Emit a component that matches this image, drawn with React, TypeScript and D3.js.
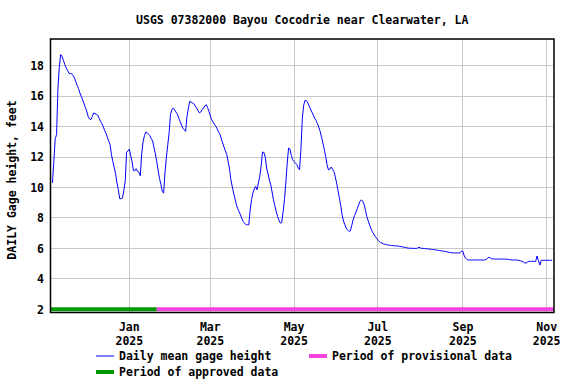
import React, { useRef, useEffect } from 'react';
import * as d3 from 'd3';

const TITLE = 'USGS 07382000 Bayou Cocodrie near Clearwater, LA';
const Y_LABEL = 'DAILY Gage height, feet';

// Daily mean gage height, feet. Each month array starts at its first day,
// except Nov 2024 which starts on the 6th.
const nov2024 = [10.3, 11.7, 13.2, 13.47, 16.5, 17.9, 18.73, 18.6, 18.35, 18.07, 17.85, 17.7, 17.5, 17.48, 17.48, 17.35, 17.2, 16.95, 16.7, 16.5, 16.2, 15.99, 15.75, 15.5, 15.25];
const dec2024 = [15.0, 14.67, 14.5, 14.45, 14.65, 14.89, 14.85, 14.8, 14.75, 14.55, 14.35, 14.2, 14.0, 13.75, 13.55, 13.3, 13.03, 12.8, 12.15, 11.7, 11.3, 10.9, 10.3, 9.85, 9.26, 9.26, 9.3, 9.8, 10.4, 12.3, 12.4];
const jan2025 = [12.52, 12.1, 11.7, 11.1, 11.1, 11.23, 11.05, 11.0, 10.77, 12.2, 13.0, 13.4, 13.64, 13.6, 13.5, 13.4, 13.2, 13.05, 12.6, 12.2, 11.7, 11.1, 10.6, 10.2, 9.75, 9.63, 11.0, 12.0, 12.8, 13.6, 14.8];
const feb2025 = [15.1, 15.22, 15.1, 14.95, 14.8, 14.55, 14.34, 14.1, 13.9, 13.8, 13.69, 14.67, 15.2, 15.66, 15.6, 15.55, 15.5, 15.35, 15.22, 15.05, 14.9, 14.95, 15.1, 15.22, 15.35, 15.44, 15.25, 15.0];
const mar2025 = [14.7, 14.45, 14.3, 14.15, 14.01, 13.85, 13.65, 13.5, 13.2, 12.92, 12.65, 12.4, 12.15, 11.7, 11.2, 10.51, 10.05, 9.63, 9.25, 8.86, 8.6, 8.4, 8.2, 7.95, 7.76, 7.65, 7.55, 7.55, 7.55, 8.5, 9.2];
const apr2025 = [9.63, 9.9, 10.07, 9.85, 10.3, 10.72, 11.38, 12.33, 12.3, 12.0, 11.28, 10.9, 10.5, 10.18, 9.7, 9.19, 8.8, 8.4, 8.1, 7.85, 7.66, 7.7, 8.4, 9.2, 10.3, 11.6, 12.59, 12.52, 12.1, 11.82];
const may2025 = [11.7, 11.6, 11.5, 11.3, 11.16, 12.5, 14.5, 15.4, 15.73, 15.7, 15.55, 15.35, 15.15, 14.95, 14.75, 14.55, 14.4, 14.2, 13.95, 13.69, 13.3, 12.92, 12.5, 12.04, 11.5, 11.16, 11.2, 11.34, 11.2, 11.05, 10.7];
const jun2025 = [10.29, 9.8, 9.3, 8.8, 8.2, 7.8, 7.55, 7.33, 7.2, 7.11, 7.15, 7.5, 7.87, 8.15, 8.35, 8.6, 8.85, 9.08, 9.19, 9.1, 8.9, 8.5, 8.09, 7.8, 7.55, 7.3, 7.1, 6.95, 6.8, 6.67];
const jul2025 = [6.55, 6.45, 6.38, 6.35, 6.3, 6.28, 6.25, 6.23, 6.22, 6.2, 6.19, 6.18, 6.17, 6.16, 6.16, 6.15, 6.13, 6.11, 6.1, 6.08, 6.06, 6.04, 6.02, 6.01, 6.01, 6.01, 6.0, 6.0, 6.0, 6.02, 6.08];
const aug2025 = [6.02, 6.01, 6.0, 5.99, 5.98, 5.97, 5.96, 5.95, 5.94, 5.93, 5.92, 5.9, 5.89, 5.87, 5.86, 5.84, 5.83, 5.82, 5.8, 5.78, 5.76, 5.74, 5.73, 5.71, 5.7, 5.7, 5.7, 5.7, 5.7, 5.72, 5.83];
const sep2025 = [5.8, 5.5, 5.35, 5.26, 5.24, 5.24, 5.24, 5.24, 5.24, 5.24, 5.24, 5.24, 5.24, 5.24, 5.24, 5.24, 5.24, 5.28, 5.36, 5.42, 5.36, 5.3, 5.32, 5.3, 5.3, 5.3, 5.3, 5.3, 5.3, 5.3];
const oct2025 = [5.3, 5.3, 5.29, 5.28, 5.26, 5.25, 5.24, 5.24, 5.24, 5.24, 5.22, 5.2, 5.18, 5.15, 5.1, 5.05, 5.03, 5.1, 5.15, 5.15, 5.15, 5.15, 5.15, 5.15, 5.5, 5.2, 4.9, 5.22, 5.22, 5.22, 5.22];
const nov2025 = [5.22, 5.22, 5.22, 5.22, 5.22];

// [year, month index, first day, values]
const monthChunks: [number, number, number, number[]][] = [
  [2024, 10, 6, nov2024], [2024, 11, 1, dec2024], [2025, 0, 1, jan2025],
  [2025, 1, 1, feb2025], [2025, 2, 1, mar2025], [2025, 3, 1, apr2025],
  [2025, 4, 1, may2025], [2025, 5, 1, jun2025], [2025, 6, 1, jul2025],
  [2025, 7, 1, aug2025], [2025, 8, 1, sep2025], [2025, 9, 1, oct2025],
  [2025, 10, 1, nov2025],
];

const yTicks = [2, 4, 6, 8, 10, 12, 14, 16, 18];
const xTickDates = ['2025-01-01', '2025-03-01', '2025-05-01', '2025-07-01', '2025-09-01', '2025-11-01'];
const xTickMonths = ['Jan', 'Mar', 'May', 'Jul', 'Sep', 'Nov'];
const xTickYears = ['2025', '2025', '2025', '2025', '2025', '2025'];

const approvedPeriod = ['2024-11-05', '2025-01-21'];
const provisionalPeriod = ['2025-01-21', '2025-11-06'];

const FONT = '"DejaVu Sans Mono", monospace';

export default function App() {
  const svgRef = useRef<SVGSVGElement>(null);

  useEffect(() => {
    if (!svgRef.current) return;
    const width = 576;
    const height = 384;
    const margin = { top: 39, right: 22, bottom: 71.5, left: 50.5 };

    const svg = d3.select(svgRef.current);
    svg.selectAll('*').remove();

    const series: { date: Date; value: number }[] = [];
    monthChunks.forEach(([yr, mo, first, vals]) => {
      vals.forEach((v, i) => series.push({ date: new Date(Date.UTC(yr, mo, first + i)), value: v }));
    });

    const x = d3.scaleUtc()
      .domain([new Date(Date.UTC(2024, 10, 4, 14)), new Date(Date.UTC(2025, 10, 6, 8))])
      .range([margin.left, width - margin.right]);
    const y = d3.scaleLinear()
      .domain([1.79, 19.75])
      .range([height - margin.bottom, margin.top]);

    svg.append('rect').attr('width', width).attr('height', height).attr('fill', '#fff');

    // Title
    svg.append('text')
      .attr('x', (margin.left + width - margin.right) / 2)
      .attr('y', 24)
      .attr('text-anchor', 'middle')
      .style('font-family', FONT)
      .style('font-weight', 'bold')
      .style('font-size', '11.5px')
      .text(TITLE);

    // Grid lines
    const grid = svg.append('g').attr('shape-rendering', 'crispEdges');
    grid.selectAll('line.h')
      .data(yTicks.slice(1))
      .join('line')
      .attr('class', 'h')
      .attr('x1', margin.left)
      .attr('x2', width - margin.right)
      .attr('y1', d => y(d))
      .attr('y2', d => y(d))
      .attr('stroke', '#c8c8c8');
    grid.selectAll('line.v')
      .data(xTickDates)
      .join('line')
      .attr('class', 'v')
      .attr('x1', d => x(new Date(d)))
      .attr('x2', d => x(new Date(d)))
      .attr('y1', margin.top)
      .attr('y2', height - margin.bottom)
      .attr('stroke', '#c8c8c8');

    // Data approval periods along the bottom
    const periods = [
      { range: approvedPeriod, color: '#009900' },
      { range: provisionalPeriod, color: '#f442dc' },
    ];
    svg.selectAll('line.period')
      .data(periods)
      .join('line')
      .attr('class', 'period')
      .attr('x1', d => x(new Date(d.range[0])))
      .attr('x2', d => x(new Date(d.range[1])))
      .attr('y1', y(2))
      .attr('y2', y(2))
      .attr('stroke', d => d.color)
      .attr('stroke-width', 4);

    // Gage height line
    const line = d3.line<{ date: Date; value: number }>()
      .x(d => x(d.date))
      .y(d => y(d.value));
    svg.append('path')
      .datum(series)
      .attr('d', line)
      .attr('fill', 'none')
      .attr('stroke', '#0000ff')
      .attr('stroke-width', 1);

    // Frame
    svg.append('rect')
      .attr('x', margin.left)
      .attr('y', margin.top)
      .attr('width', width - margin.left - margin.right)
      .attr('height', height - margin.top - margin.bottom)
      .attr('fill', 'none')
      .attr('stroke', '#000')
      .attr('stroke-width', 1.5);

    // Y tick labels
    svg.selectAll('text.ytick')
      .data(yTicks)
      .join('text')
      .attr('class', 'ytick')
      .attr('x', 44)
      .attr('y', d => y(d) + 4.2)
      .attr('text-anchor', 'end')
      .style('font-family', FONT)
      .style('font-weight', 'bold')
      .style('font-size', '11.5px')
      .text(d => d);

    // X tick labels (two lines)
    const xt = svg.selectAll('g.xtick')
      .data(xTickDates)
      .join('g')
      .attr('class', 'xtick')
      .attr('transform', d => `translate(${x(new Date(d))},0)`);
    xt.append('text')
      .attr('y', 330.5)
      .attr('text-anchor', 'middle')
      .style('font-family', FONT)
      .style('font-weight', 'bold')
      .style('font-size', '11.5px')
      .text((_, i) => xTickMonths[i]);
    xt.append('text')
      .attr('y', 344.5)
      .attr('text-anchor', 'middle')
      .style('font-family', FONT)
      .style('font-weight', 'bold')
      .style('font-size', '11.5px')
      .text((_, i) => xTickYears[i]);

    // Y axis label
    svg.append('text')
      .attr('transform', 'translate(16,180) rotate(-90)')
      .attr('text-anchor', 'middle')
      .style('font-family', FONT)
      .style('font-weight', 'bold')
      .style('font-size', '11.5px')
      .text(Y_LABEL);

    // Legend
    const legend = [
      { label: 'Daily mean gage height', color: '#0000ff', width: 1, lx: 96, ly: 356 },
      { label: 'Period of provisional data', color: '#f442dc', width: 4, lx: 309, ly: 356 },
      { label: 'Period of approved data', color: '#009900', width: 4, lx: 96, ly: 372 },
    ];
    const lg = svg.selectAll('g.legend')
      .data(legend)
      .join('g')
      .attr('class', 'legend')
      .attr('transform', d => `translate(${d.lx},${d.ly})`);
    lg.append('line')
      .attr('x1', 0)
      .attr('x2', 18)
      .attr('stroke', d => d.color)
      .attr('stroke-width', d => d.width);
    lg.append('text')
      .attr('x', 23)
      .attr('y', 4.2)
      .style('font-family', FONT)
      .style('font-weight', 'bold')
      .style('font-size', '11.5px')
      .text(d => d.label);
  }, []);

  return (
    <svg
      ref={svgRef}
      width={576}
      height={384}
      style={{ position: 'absolute', left: 0, top: 0 }}
    />
  );
}
